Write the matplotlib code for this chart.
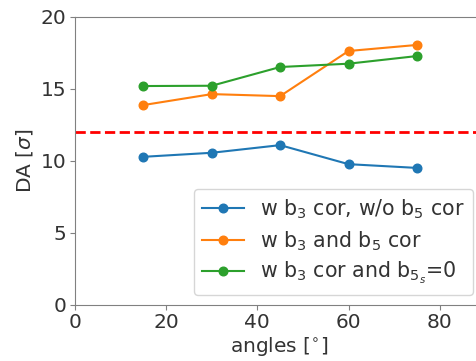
import matplotlib
matplotlib.use("Agg")
import matplotlib.pyplot as plt

angles = [15, 30, 45, 60, 75]
blue_vals = [10.28, 10.56, 11.09, 9.77, 9.51]
orange_vals = [13.87, 14.63, 14.49, 17.62, 18.04]
green_vals = [15.19, 15.21, 16.51, 16.74, 17.27]
threshold = 12
labels = [r"w b$_3$ cor, w/o b$_5$ cor", r"w b$_3$ and b$_5$ cor", r"w b$_3$ cor and b$_{5_s}$=0"]

FS = 14.5
plt.rcParams['font.family'] = ['DejaVu Sans']
plt.rcParams['font.size'] = FS
text_col = '#333333'
spine_col = '#808080'

fig = plt.figure(figsize=(4.76, 3.61), dpi=100)
W, H = 476, 361
ax = fig.add_axes([75 / W, 1 - 305 / H, (483 - 75) / W, (305 - 16.7) / H])

ax.plot(angles, blue_vals, marker='o', color='#1f77b4', lw=1.5, ms=6.2, label=labels[0])
ax.plot(angles, orange_vals, marker='o', color='#ff7f0e', lw=1.5, ms=6.2, label=labels[1])
ax.plot(angles, green_vals, marker='o', color='#2ca02c', lw=1.5, ms=6.2, label=labels[2])
ax.axhline(threshold, color='red', ls='--', lw=2)

ax.set_xlim(0, 89.5)
ax.set_ylim(0, 20)
ax.set_xticks([0, 20, 40, 60, 80])
ax.set_yticks([0, 5, 10, 15, 20])
ax.set_xlabel(r"angles [$^{\circ}$]", color=text_col, fontsize=FS, labelpad=2)
ax.set_ylabel(r"DA [$\sigma$]", color=text_col, fontsize=FS)
ax.tick_params(colors=spine_col, labelcolor=text_col, labelsize=FS, pad=2.5)
for s in ax.spines.values():
    s.set_color(spine_col)

leg = ax.legend(loc='lower right', fontsize=14.8, labelspacing=0.38)
for t in leg.get_texts():
    t.set_color(text_col)

fig.savefig('out.png', dpi=100)
